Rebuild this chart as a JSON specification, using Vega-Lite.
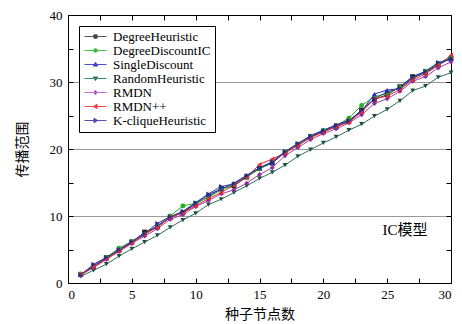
{
"$schema":"https://vega.github.io/schema/vega-lite/v6.json",
"width":383,"height":268,
"autosize":{"type":"none"},
"padding":{"left":68,"top":15,"right":11,"bottom":41},
"config":{
 "view":{"stroke":"black","strokeWidth":1},
 "axis":{"domain":false,"tickColor":"black","tickSize":-5,"labelFont":"Times New Roman, Liberation Serif, DejaVu Serif, serif","labelFontSize":13,"labelColor":"black","titleFont":"Noto Sans CJK SC","titleFontSize":14,"titleFontWeight":"normal","titleColor":"black","grid":false},
 "legend":{"orient":"top-left","offset":11,"padding":4,"strokeColor":"black","fillColor":"white","labelFont":"Times New Roman, Liberation Serif, DejaVu Serif, serif","labelFontSize":13,"labelColor":"black","symbolSize":121,"symbolStrokeWidth":1,"rowPadding":0,"labelOffset":11,"symbolOffset":6},
 "point":{"filled":true,"size":24,"opacity":1}
},
"datasets":{
"series":[
{"series":"DegreeHeuristic","x":1,"y":1.3},{"series":"DegreeHeuristic","x":2,"y":2.4},{"series":"DegreeHeuristic","x":3,"y":3.8},{"series":"DegreeHeuristic","x":4,"y":4.9},{"series":"DegreeHeuristic","x":5,"y":6.1},{"series":"DegreeHeuristic","x":6,"y":7.6},{"series":"DegreeHeuristic","x":7,"y":8.4},{"series":"DegreeHeuristic","x":8,"y":9.8},{"series":"DegreeHeuristic","x":9,"y":10.5},{"series":"DegreeHeuristic","x":10,"y":11.8},{"series":"DegreeHeuristic","x":11,"y":12.9},{"series":"DegreeHeuristic","x":12,"y":14.1},{"series":"DegreeHeuristic","x":13,"y":14.5},{"series":"DegreeHeuristic","x":14,"y":15.8},{"series":"DegreeHeuristic","x":15,"y":17.1},{"series":"DegreeHeuristic","x":16,"y":17.9},{"series":"DegreeHeuristic","x":17,"y":19.5},{"series":"DegreeHeuristic","x":18,"y":20.7},{"series":"DegreeHeuristic","x":19,"y":21.8},{"series":"DegreeHeuristic","x":20,"y":22.6},{"series":"DegreeHeuristic","x":21,"y":23.3},{"series":"DegreeHeuristic","x":22,"y":24.1},{"series":"DegreeHeuristic","x":23,"y":25.8},{"series":"DegreeHeuristic","x":24,"y":27.4},{"series":"DegreeHeuristic","x":25,"y":28.1},{"series":"DegreeHeuristic","x":26,"y":29.3},{"series":"DegreeHeuristic","x":27,"y":30.8},{"series":"DegreeHeuristic","x":28,"y":31.5},{"series":"DegreeHeuristic","x":29,"y":32.7},{"series":"DegreeHeuristic","x":30,"y":33.5},
{"series":"DegreeDiscountIC","x":1,"y":1.3},{"series":"DegreeDiscountIC","x":2,"y":2.5},{"series":"DegreeDiscountIC","x":3,"y":3.8},{"series":"DegreeDiscountIC","x":4,"y":5.2},{"series":"DegreeDiscountIC","x":5,"y":6.2},{"series":"DegreeDiscountIC","x":6,"y":7.3},{"series":"DegreeDiscountIC","x":7,"y":8.5},{"series":"DegreeDiscountIC","x":8,"y":10.0},{"series":"DegreeDiscountIC","x":9,"y":11.5},{"series":"DegreeDiscountIC","x":10,"y":11.9},{"series":"DegreeDiscountIC","x":11,"y":12.8},{"series":"DegreeDiscountIC","x":12,"y":13.9},{"series":"DegreeDiscountIC","x":13,"y":14.7},{"series":"DegreeDiscountIC","x":14,"y":15.9},{"series":"DegreeDiscountIC","x":15,"y":17.0},{"series":"DegreeDiscountIC","x":16,"y":18.1},{"series":"DegreeDiscountIC","x":17,"y":19.6},{"series":"DegreeDiscountIC","x":18,"y":20.7},{"series":"DegreeDiscountIC","x":19,"y":21.9},{"series":"DegreeDiscountIC","x":20,"y":22.8},{"series":"DegreeDiscountIC","x":21,"y":23.5},{"series":"DegreeDiscountIC","x":22,"y":24.6},{"series":"DegreeDiscountIC","x":23,"y":26.5},{"series":"DegreeDiscountIC","x":24,"y":27.8},{"series":"DegreeDiscountIC","x":25,"y":28.3},{"series":"DegreeDiscountIC","x":26,"y":29.2},{"series":"DegreeDiscountIC","x":27,"y":30.5},{"series":"DegreeDiscountIC","x":28,"y":31.6},{"series":"DegreeDiscountIC","x":29,"y":32.8},{"series":"DegreeDiscountIC","x":30,"y":33.7},
{"series":"SingleDiscount","x":1,"y":1.2},{"series":"SingleDiscount","x":2,"y":2.6},{"series":"SingleDiscount","x":3,"y":3.7},{"series":"SingleDiscount","x":4,"y":4.9},{"series":"SingleDiscount","x":5,"y":6.1},{"series":"SingleDiscount","x":6,"y":7.2},{"series":"SingleDiscount","x":7,"y":8.6},{"series":"SingleDiscount","x":8,"y":9.7},{"series":"SingleDiscount","x":9,"y":10.6},{"series":"SingleDiscount","x":10,"y":11.9},{"series":"SingleDiscount","x":11,"y":13.2},{"series":"SingleDiscount","x":12,"y":14.0},{"series":"SingleDiscount","x":13,"y":14.9},{"series":"SingleDiscount","x":14,"y":16.1},{"series":"SingleDiscount","x":15,"y":17.2},{"series":"SingleDiscount","x":16,"y":18.0},{"series":"SingleDiscount","x":17,"y":19.6},{"series":"SingleDiscount","x":18,"y":20.8},{"series":"SingleDiscount","x":19,"y":22.0},{"series":"SingleDiscount","x":20,"y":22.8},{"series":"SingleDiscount","x":21,"y":23.6},{"series":"SingleDiscount","x":22,"y":24.3},{"series":"SingleDiscount","x":23,"y":25.6},{"series":"SingleDiscount","x":24,"y":28.2},{"series":"SingleDiscount","x":25,"y":28.8},{"series":"SingleDiscount","x":26,"y":29.0},{"series":"SingleDiscount","x":27,"y":30.6},{"series":"SingleDiscount","x":28,"y":31.4},{"series":"SingleDiscount","x":29,"y":32.5},{"series":"SingleDiscount","x":30,"y":33.6},
{"series":"RandomHeuristic","x":1,"y":1.0},{"series":"RandomHeuristic","x":2,"y":1.9},{"series":"RandomHeuristic","x":3,"y":2.8},{"series":"RandomHeuristic","x":4,"y":4.0},{"series":"RandomHeuristic","x":5,"y":5.1},{"series":"RandomHeuristic","x":6,"y":6.1},{"series":"RandomHeuristic","x":7,"y":7.1},{"series":"RandomHeuristic","x":8,"y":8.3},{"series":"RandomHeuristic","x":9,"y":9.4},{"series":"RandomHeuristic","x":10,"y":10.4},{"series":"RandomHeuristic","x":11,"y":11.7},{"series":"RandomHeuristic","x":12,"y":12.5},{"series":"RandomHeuristic","x":13,"y":13.5},{"series":"RandomHeuristic","x":14,"y":14.5},{"series":"RandomHeuristic","x":15,"y":15.6},{"series":"RandomHeuristic","x":16,"y":16.5},{"series":"RandomHeuristic","x":17,"y":17.6},{"series":"RandomHeuristic","x":18,"y":18.9},{"series":"RandomHeuristic","x":19,"y":19.9},{"series":"RandomHeuristic","x":20,"y":20.9},{"series":"RandomHeuristic","x":21,"y":21.8},{"series":"RandomHeuristic","x":22,"y":22.8},{"series":"RandomHeuristic","x":23,"y":23.7},{"series":"RandomHeuristic","x":24,"y":24.9},{"series":"RandomHeuristic","x":25,"y":25.9},{"series":"RandomHeuristic","x":26,"y":27.2},{"series":"RandomHeuristic","x":27,"y":28.7},{"series":"RandomHeuristic","x":28,"y":29.4},{"series":"RandomHeuristic","x":29,"y":30.7},{"series":"RandomHeuristic","x":30,"y":31.4},
{"series":"RMDN","x":1,"y":1.2},{"series":"RMDN","x":2,"y":2.3},{"series":"RMDN","x":3,"y":3.5},{"series":"RMDN","x":4,"y":4.7},{"series":"RMDN","x":5,"y":5.9},{"series":"RMDN","x":6,"y":7.0},{"series":"RMDN","x":7,"y":8.1},{"series":"RMDN","x":8,"y":9.5},{"series":"RMDN","x":9,"y":10.2},{"series":"RMDN","x":10,"y":11.4},{"series":"RMDN","x":11,"y":12.3},{"series":"RMDN","x":12,"y":13.3},{"series":"RMDN","x":13,"y":13.9},{"series":"RMDN","x":14,"y":14.9},{"series":"RMDN","x":15,"y":16.2},{"series":"RMDN","x":16,"y":17.2},{"series":"RMDN","x":17,"y":19.0},{"series":"RMDN","x":18,"y":20.2},{"series":"RMDN","x":19,"y":21.4},{"series":"RMDN","x":20,"y":22.3},{"series":"RMDN","x":21,"y":23.0},{"series":"RMDN","x":22,"y":23.9},{"series":"RMDN","x":23,"y":25.1},{"series":"RMDN","x":24,"y":26.8},{"series":"RMDN","x":25,"y":27.5},{"series":"RMDN","x":26,"y":28.6},{"series":"RMDN","x":27,"y":30.1},{"series":"RMDN","x":28,"y":30.8},{"series":"RMDN","x":29,"y":32.1},{"series":"RMDN","x":30,"y":33.0},
{"series":"RMDN++","x":1,"y":1.3},{"series":"RMDN++","x":2,"y":2.4},{"series":"RMDN++","x":3,"y":3.6},{"series":"RMDN++","x":4,"y":4.8},{"series":"RMDN++","x":5,"y":6.0},{"series":"RMDN++","x":6,"y":7.3},{"series":"RMDN++","x":7,"y":8.3},{"series":"RMDN++","x":8,"y":9.8},{"series":"RMDN++","x":9,"y":10.5},{"series":"RMDN++","x":10,"y":11.5},{"series":"RMDN++","x":11,"y":12.6},{"series":"RMDN++","x":12,"y":13.5},{"series":"RMDN++","x":13,"y":14.6},{"series":"RMDN++","x":14,"y":15.8},{"series":"RMDN++","x":15,"y":17.7},{"series":"RMDN++","x":16,"y":18.5},{"series":"RMDN++","x":17,"y":19.4},{"series":"RMDN++","x":18,"y":20.5},{"series":"RMDN++","x":19,"y":21.7},{"series":"RMDN++","x":20,"y":22.5},{"series":"RMDN++","x":21,"y":23.4},{"series":"RMDN++","x":22,"y":24.0},{"series":"RMDN++","x":23,"y":25.5},{"series":"RMDN++","x":24,"y":27.5},{"series":"RMDN++","x":25,"y":27.9},{"series":"RMDN++","x":26,"y":28.9},{"series":"RMDN++","x":27,"y":30.3},{"series":"RMDN++","x":28,"y":31.2},{"series":"RMDN++","x":29,"y":32.5},{"series":"RMDN++","x":30,"y":34.0},
{"series":"K-cliqueHeuristic","x":1,"y":1.2},{"series":"K-cliqueHeuristic","x":2,"y":2.8},{"series":"K-cliqueHeuristic","x":3,"y":3.8},{"series":"K-cliqueHeuristic","x":4,"y":5.0},{"series":"K-cliqueHeuristic","x":5,"y":6.2},{"series":"K-cliqueHeuristic","x":6,"y":7.4},{"series":"K-cliqueHeuristic","x":7,"y":8.9},{"series":"K-cliqueHeuristic","x":8,"y":9.9},{"series":"K-cliqueHeuristic","x":9,"y":10.7},{"series":"K-cliqueHeuristic","x":10,"y":12.0},{"series":"K-cliqueHeuristic","x":11,"y":13.3},{"series":"K-cliqueHeuristic","x":12,"y":14.4},{"series":"K-cliqueHeuristic","x":13,"y":14.8},{"series":"K-cliqueHeuristic","x":14,"y":16.0},{"series":"K-cliqueHeuristic","x":15,"y":17.2},{"series":"K-cliqueHeuristic","x":16,"y":18.1},{"series":"K-cliqueHeuristic","x":17,"y":19.6},{"series":"K-cliqueHeuristic","x":18,"y":20.8},{"series":"K-cliqueHeuristic","x":19,"y":21.9},{"series":"K-cliqueHeuristic","x":20,"y":22.7},{"series":"K-cliqueHeuristic","x":21,"y":23.5},{"series":"K-cliqueHeuristic","x":22,"y":24.2},{"series":"K-cliqueHeuristic","x":23,"y":25.8},{"series":"K-cliqueHeuristic","x":24,"y":27.5},{"series":"K-cliqueHeuristic","x":25,"y":28.5},{"series":"K-cliqueHeuristic","x":26,"y":29.1},{"series":"K-cliqueHeuristic","x":27,"y":30.8},{"series":"K-cliqueHeuristic","x":28,"y":31.6},{"series":"K-cliqueHeuristic","x":29,"y":32.9},{"series":"K-cliqueHeuristic","x":30,"y":33.4}
],
"note":[{"x":26.4,"y":7.9,"label":"IC模型"}]
},
"layer":[
 {"data":{"name":"series"},
  "mark":{"type":"line","strokeWidth":1},
  "encoding":{
   "x":{"field":"x","type":"quantitative","scale":{"domain":[0,30],"nice":false},"title":"种子节点数",
        "axis":{"orient":"bottom","values":[0,2.5,5,7.5,10,12.5,15,17.5,20,22.5,25,27.5,30],"labelExpr":"datum.value % 5 == 0 ? datum.label : ''","labelPadding":10,"titlePadding":6}},
   "y":{"field":"y","type":"quantitative","scale":{"domain":[0,40],"nice":false},"title":"传播范围",
        "axis":{"orient":"left","values":[0,5,10,15,20,25,30,35,40],"labelExpr":"datum.value % 10 == 0 ? datum.label : ''","labelPadding":11,"titlePadding":20,"grid":true,"gridColor":"#999999","gridWidth":1.2,
        "gridOpacity":{"condition":{"test":"datum.value % 10 == 0 && datum.value > 0 && datum.value < 40","value":1},"value":0}}},
   "color":{"field":"series","type":"nominal","legend":null,
     "scale":{"domain":["K-cliqueHeuristic","RMDN++","RMDN","RandomHeuristic","SingleDiscount","DegreeDiscountIC","DegreeHeuristic"],
              "range":["#35359a","#f02828","#a040b0","#2e6e5e","#2a2ac0","#22b022","#333333"]}}
  }},
 {"data":{"name":"series"},"transform":[{"filter":"datum.series == 'DegreeHeuristic'"}],
  "mark":{"type":"point","shape":"square","color":"#222222"},
  "encoding":{
   "x":{"field":"x","type":"quantitative","axis":{"orient":"top","values":[0,2.5,5,7.5,10,12.5,15,17.5,20,22.5,25,27.5,30],"labels":false,"title":null}},
   "y":{"field":"y","type":"quantitative","axis":{"orient":"right","values":[0,5,10,15,20,25,30,35,40],"labels":false,"title":null}}}},
 {"data":{"name":"series"},"transform":[{"filter":"datum.series == 'DegreeDiscountIC'"}],
  "mark":{"type":"point","shape":"circle","color":"#22b022"},
  "encoding":{"x":{"field":"x","type":"quantitative","axis":null},"y":{"field":"y","type":"quantitative","axis":null}}},
 {"data":{"name":"series"},"transform":[{"filter":"datum.series == 'SingleDiscount'"}],
  "mark":{"type":"point","shape":"triangle-up","color":"#2a2ac0"},
  "encoding":{"x":{"field":"x","type":"quantitative","axis":null},"y":{"field":"y","type":"quantitative","axis":null}}},
 {"data":{"name":"series"},"transform":[{"filter":"datum.series == 'RandomHeuristic'"}],
  "mark":{"type":"point","shape":"triangle-down","color":"#1f4f43"},
  "encoding":{"x":{"field":"x","type":"quantitative","axis":null},"y":{"field":"y","type":"quantitative","axis":null}}},
 {"data":{"name":"series"},"transform":[{"filter":"datum.series == 'RMDN'"}],
  "mark":{"type":"point","shape":"diamond","color":"#8a30a0"},
  "encoding":{"x":{"field":"x","type":"quantitative","axis":null},"y":{"field":"y","type":"quantitative","axis":null}}},
 {"data":{"name":"series"},"transform":[{"filter":"datum.series == 'RMDN++'"}],
  "mark":{"type":"point","shape":"triangle-left","color":"#f02828"},
  "encoding":{"x":{"field":"x","type":"quantitative","axis":null},"y":{"field":"y","type":"quantitative","axis":null}}},
 {"data":{"name":"series"},"transform":[{"filter":"datum.series == 'K-cliqueHeuristic'"}],
  "mark":{"type":"point","shape":"triangle-right","color":"#2a2a90"},
  "encoding":{"x":{"field":"x","type":"quantitative","axis":null},"y":{"field":"y","type":"quantitative","axis":null}}},
 {"data":{"name":"series"},
  "mark":{"type":"point","filled":true,"size":0},
  "encoding":{
   "x":{"field":"x","type":"quantitative","axis":null},
   "y":{"field":"y","type":"quantitative","axis":null},
   "fill":{"field":"series","type":"nominal","legend":{"title":null},
     "scale":{"domain":["DegreeHeuristic","DegreeDiscountIC","SingleDiscount","RandomHeuristic","RMDN","RMDN++","K-cliqueHeuristic"],
              "range":["#222222","#22b022","#2a2ac0","#1f4f43","#8a30a0","#f02828","#2a2a90"]}},
   "stroke":{"field":"series","type":"nominal","legend":{"title":null},
     "scale":{"domain":["DegreeHeuristic","DegreeDiscountIC","SingleDiscount","RandomHeuristic","RMDN","RMDN++","K-cliqueHeuristic"],
              "range":["#555555","#44c044","#4a4ad0","#3e8a76","#c070d0","#f04848","#5050b0"]}},
   "shape":{"field":"series","type":"nominal","legend":{"title":null},
     "scale":{"domain":["DegreeHeuristic","DegreeDiscountIC","SingleDiscount","RandomHeuristic","RMDN","RMDN++","K-cliqueHeuristic"],
              "range":["M-2,0H2M-0.3,-0.3H0.3V0.3H-0.3Z",
                       "M-2,0H2M0.34,0A0.34,0.34 0 1 1 -0.34,0A0.34,0.34 0 1 1 0.34,0Z",
                       "M-2,0H2M0,-0.4L0.4,0.28H-0.4Z",
                       "M-2,0H2M0,0.4L0.4,-0.28H-0.4Z",
                       "M-2,0H2M0,-0.42L0.34,0L0,0.42L-0.34,0Z",
                       "M-2,0H2M-0.4,0L0.28,-0.4V0.4Z",
                       "M-2,0H2M0.4,0L-0.28,-0.4V0.4Z"]}}
  }},
 {"data":{"name":"note"},
  "mark":{"type":"text","font":"Times New Roman, Liberation Serif, Noto Sans CJK SC, serif","fontSize":15,"color":"black"},
  "encoding":{
   "x":{"field":"x","type":"quantitative","axis":null},
   "y":{"field":"y","type":"quantitative","axis":null},
   "text":{"field":"label"}
  }}
],
"resolve":{"axis":{"x":"independent","y":"independent"}}
}
